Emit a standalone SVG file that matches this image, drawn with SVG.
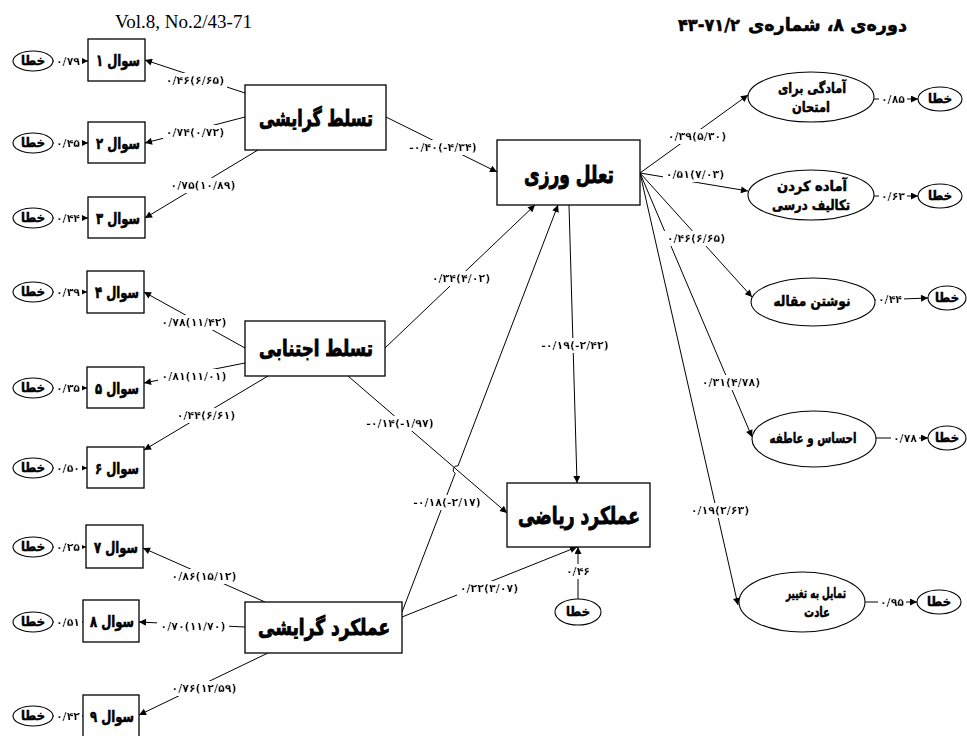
<svg xmlns="http://www.w3.org/2000/svg" width="967" height="736" viewBox="0 0 967 736">
<defs>
<style>
.bx{fill:#fff;stroke:#000;stroke-width:1.3}
.el{fill:#fff;stroke:#000;stroke-width:1.1}
.ln{fill:none;stroke:#000;stroke-width:1}
.ar{marker-end:url(#ah)}
.t{font-family:"DejaVu Sans",sans-serif;font-weight:bold;fill:#000;stroke:#000;stroke-width:0.5;text-anchor:middle}
.big{font-size:22px;stroke-width:0.9}
.q{font-size:16px;stroke-width:0.6}
.ov{font-size:14px;stroke-width:0.5}
.er{font-size:13px;stroke-width:0.5}
.lb{font-family:"DejaVu Sans",sans-serif;font-weight:bold;font-size:11px;text-anchor:middle;filter:url(#bg);stroke:#000;stroke-width:0.2}
</style>
<marker id="ah" viewBox="0 0 10 10" refX="10" refY="5" markerWidth="9" markerHeight="7" markerUnits="userSpaceOnUse" orient="auto"><path d="M0,0 L10,5 L0,10 z"/></marker>
<filter id="bg" x="-0.04" y="-0.05" width="1.08" height="1.1"><feFlood flood-color="#fff"/><feComposite in="SourceGraphic" operator="over"/></filter>
</defs>
<rect width="967" height="736" fill="#fff"/>
<g id="header">
<text x="115" y="28" font-family="Liberation Serif" font-size="19">Vol.8, No.2/43-71</text>
<text x="907" y="31" class="t" style="font-size:18px;text-anchor:end" textLength="159" lengthAdjust="spacingAndGlyphs">دوره&#x200C;ی ۸، شماره&#x200C;ی</text>
<text x="678" y="31" class="t" style="font-size:17px;text-anchor:start" textLength="62" lengthAdjust="spacingAndGlyphs">۴۳-۷۱/۲</text>
</g>
<g id="connectors">
<path class="ln ar" d="M53,61 L88,61"/>
<path class="ln ar" d="M53,143 L88,143"/>
<path class="ln ar" d="M53,218 L88,218"/>
<path class="ln ar" d="M53,292 L87,292"/>
<path class="ln ar" d="M53,388 L87,388"/>
<path class="ln ar" d="M53,468 L87,468"/>
<path class="ln ar" d="M53,547 L86,547"/>
<path class="ln ar" d="M53,622 L83,622"/>
<path class="ln ar" d="M53,716 L83,716"/>
<path class="ln ar" d="M245,93 L145,60"/>
<path class="ln ar" d="M245,117 L145,143"/>
<path class="ln ar" d="M258,150 L145,218"/>
<path class="ln ar" d="M245,348 L144,292"/>
<path class="ln ar" d="M245,363 L144,383"/>
<path class="ln ar" d="M268,376 L144,450"/>
<path class="ln ar" d="M265,602 L143,548"/>
<path class="ln ar" d="M245,627 L139,622"/>
<path class="ln ar" d="M268,653 L139,715"/>
<path class="ln ar" d="M386,117 L497,172"/>
<path class="ln ar" d="M385,348 L535,205"/>
<path class="ln ar" d="M402,612 L455.2,473.3 A4,4 0 0 1 458,465.9 L558,205"/>
<path class="ln ar" d="M348,376 L507,513"/>
<path class="ln ar" d="M402,617 L577,547"/>
<path class="ln ar" d="M569,205 L577,483"/>
<path class="ln ar" d="M578,599 L578,547"/>
<path class="ln ar" d="M640,173 L748,95"/>
<path class="ln ar" d="M640,173 L748,191"/>
<path class="ln ar" d="M640,173 L752,297"/>
<path class="ln ar" d="M640,173 L752,437"/>
<path class="ln ar" d="M640,173 L738,605"/>
<path class="ln ar" d="M874,99 L918,99"/>
<path class="ln ar" d="M874,196 L918,196"/>
<path class="ln ar" d="M875,300 L928,298"/>
<path class="ln ar" d="M876,438 L928,438"/>
<path class="ln ar" d="M865,602 L917,602"/>
<g id="labels">
<text class="lb" x="68" y="65">۰/۷۹</text>
<text class="lb" x="68" y="147">۰/۴۵</text>
<text class="lb" x="68" y="222">۰/۴۴</text>
<text class="lb" x="68" y="296">۰/۳۹</text>
<text class="lb" x="68" y="392">۰/۳۵</text>
<text class="lb" x="68" y="472">۰/۵۰</text>
<text class="lb" x="68" y="551">۰/۲۵</text>
<text class="lb" x="68" y="626">۰/۵۱</text>
<text class="lb" x="68" y="720">۰/۴۲</text>
<text class="lb" x="195" y="84">۰/۴۶(۶/۶۵)</text>
<text class="lb" x="195" y="136">۰/۷۴(۰/۷۲)</text>
<text class="lb" x="203" y="189">۰/۷۵(۱۰/۸۹)</text>
<text class="lb" x="194" y="326">۰/۷۸(۱۱/۴۲)</text>
<text class="lb" x="194" y="380">۰/۸۱(۱۱/۰۱)</text>
<text class="lb" x="206" y="419">۰/۴۴(۶/۶۱)</text>
<text class="lb" x="204" y="580">۰/۸۶(۱۵/۱۲)</text>
<text class="lb" x="193" y="630">۰/۷۰(۱۱/۷۰)</text>
<text class="lb" x="204" y="692">۰/۷۶(۱۲/۵۹)</text>
<text class="lb" x="443" y="151">-۰/۴۰(-۴/۳۴)</text>
<text class="lb" x="461" y="282">۰/۳۴(۴/۰۲)</text>
<text class="lb" x="447" y="506">-۰/۱۸(-۲/۱۷)</text>
<text class="lb" x="400" y="427">-۰/۱۴(-۱/۹۷)</text>
<text class="lb" x="489" y="592">۰/۲۲(۳/۰۷)</text>
<text class="lb" x="575" y="349">-۰/۱۹(-۲/۴۲)</text>
<text class="lb" x="578" y="575">۰/۴۶</text>
<text class="lb" x="697" y="140">۰/۳۹(۵/۳۰)</text>
<text class="lb" x="695" y="178">۰/۵۱(۷/۰۳)</text>
<text class="lb" x="696" y="242">۰/۴۶(۶/۶۵)</text>
<text class="lb" x="731" y="386">۰/۳۱(۴/۷۸)</text>
<text class="lb" x="720" y="514">۰/۱۹(۲/۶۳)</text>
<text class="lb" x="893" y="103">۰/۸۵</text>
<text class="lb" x="893" y="200">۰/۶۳</text>
<text class="lb" x="890" y="303">۰/۴۴</text>
<text class="lb" x="905" y="442">۰/۷۸</text>
<text class="lb" x="892" y="606">۰/۹۵</text>
</g>
</g>
<g id="e1"><ellipse class="el" cx="33" cy="61" rx="20" ry="10"/><text class="t er" x="33" y="65" textLength="24" lengthAdjust="spacingAndGlyphs">خطا</text></g>
<g id="e2"><ellipse class="el" cx="33" cy="143" rx="20" ry="10"/><text class="t er" x="33" y="147" textLength="24" lengthAdjust="spacingAndGlyphs">خطا</text></g>
<g id="e3"><ellipse class="el" cx="33" cy="218" rx="20" ry="10"/><text class="t er" x="33" y="222" textLength="24" lengthAdjust="spacingAndGlyphs">خطا</text></g>
<g id="e4"><ellipse class="el" cx="33" cy="292" rx="20" ry="10"/><text class="t er" x="33" y="296" textLength="24" lengthAdjust="spacingAndGlyphs">خطا</text></g>
<g id="e5"><ellipse class="el" cx="33" cy="388" rx="20" ry="10"/><text class="t er" x="33" y="392" textLength="24" lengthAdjust="spacingAndGlyphs">خطا</text></g>
<g id="e6"><ellipse class="el" cx="33" cy="468" rx="20" ry="10"/><text class="t er" x="33" y="472" textLength="24" lengthAdjust="spacingAndGlyphs">خطا</text></g>
<g id="e7"><ellipse class="el" cx="33" cy="547" rx="20" ry="10"/><text class="t er" x="33" y="551" textLength="24" lengthAdjust="spacingAndGlyphs">خطا</text></g>
<g id="e8"><ellipse class="el" cx="33" cy="622" rx="20" ry="10"/><text class="t er" x="33" y="626" textLength="24" lengthAdjust="spacingAndGlyphs">خطا</text></g>
<g id="e9"><ellipse class="el" cx="33" cy="716" rx="20" ry="10"/><text class="t er" x="33" y="720" textLength="24" lengthAdjust="spacingAndGlyphs">خطا</text></g>
<g id="q1"><rect class="bx" x="88" y="39" width="57" height="42"/><text class="t q" x="118" y="66" textLength="44" lengthAdjust="spacingAndGlyphs">سوال ۱</text></g>
<g id="q2"><rect class="bx" x="88" y="122" width="57" height="41"/><text class="t q" x="118" y="149" textLength="44" lengthAdjust="spacingAndGlyphs">سوال ۲</text></g>
<g id="q3"><rect class="bx" x="88" y="197" width="57" height="41"/><text class="t q" x="118" y="224" textLength="44" lengthAdjust="spacingAndGlyphs">سوال ۳</text></g>
<g id="q4"><rect class="bx" x="87" y="271" width="57" height="42"/><text class="t q" x="117" y="298" textLength="44" lengthAdjust="spacingAndGlyphs">سوال ۴</text></g>
<g id="q5"><rect class="bx" x="87" y="367" width="57" height="41"/><text class="t q" x="117" y="394" textLength="44" lengthAdjust="spacingAndGlyphs">سوال ۵</text></g>
<g id="q6"><rect class="bx" x="87" y="447" width="57" height="41"/><text class="t q" x="117" y="474" textLength="44" lengthAdjust="spacingAndGlyphs">سوال ۶</text></g>
<g id="q7"><rect class="bx" x="86" y="525" width="57" height="43"/><text class="t q" x="116" y="553" textLength="44" lengthAdjust="spacingAndGlyphs">سوال ۷</text></g>
<g id="q8"><rect class="bx" x="83" y="600" width="56" height="42"/><text class="t q" x="112" y="627" textLength="44" lengthAdjust="spacingAndGlyphs">سوال ۸</text></g>
<g id="q9"><rect class="bx" x="83" y="695" width="56" height="42"/><text class="t q" x="112" y="722" textLength="44" lengthAdjust="spacingAndGlyphs">سوال ۹</text></g>
<g id="L1"><rect class="bx" x="245" y="85" width="141" height="65"/><text class="t big" x="316" y="126" textLength="114" lengthAdjust="spacingAndGlyphs">تسلط گرایشی</text></g>
<g id="L2"><rect class="bx" x="245" y="321" width="140" height="55"/><text class="t big" x="316" y="356" textLength="114" lengthAdjust="spacingAndGlyphs">تسلط اجتنابی</text></g>
<g id="L3"><rect class="bx" x="245" y="602" width="157" height="51"/><text class="t big" x="324" y="635" textLength="132" lengthAdjust="spacingAndGlyphs">عملکرد گرایشی</text></g>
<g id="M"><rect class="bx" x="497" y="140" width="143" height="65"/><text class="t big" x="569" y="183" style="font-size:24px" textLength="90" lengthAdjust="spacingAndGlyphs">تعلل ورزی</text></g>
<g id="Y"><rect class="bx" x="507" y="483" width="143" height="64"/><text class="t big" x="579" y="524" style="font-size:24px" textLength="122" lengthAdjust="spacingAndGlyphs">عملکرد ریاضی</text></g>
<g id="eY"><ellipse class="el" cx="578" cy="612" rx="23" ry="13"/><text class="t er" x="578" y="616" textLength="24" lengthAdjust="spacingAndGlyphs">خطا</text></g>
<g id="A1"><ellipse class="el" cx="811" cy="97" rx="63" ry="25"/><text class="t ov" x="812" y="93" textLength="68" lengthAdjust="spacingAndGlyphs">آمادگی برای</text><text class="t ov" x="811" y="112" textLength="38" lengthAdjust="spacingAndGlyphs">امتحان</text></g>
<g id="A2"><ellipse class="el" cx="811" cy="195" rx="63" ry="25"/><text class="t ov" x="812" y="191" textLength="70" lengthAdjust="spacingAndGlyphs">آماده کردن</text><text class="t ov" x="811" y="210" textLength="78" lengthAdjust="spacingAndGlyphs">تکالیف درسی</text></g>
<g id="A3"><ellipse class="el" cx="813" cy="302" rx="62" ry="24"/><text class="t ov" x="812" y="306" textLength="77" lengthAdjust="spacingAndGlyphs">نوشتن مقاله</text></g>
<g id="A4"><ellipse class="el" cx="814" cy="439" rx="62" ry="28"/><text class="t ov" x="813" y="443" textLength="87" lengthAdjust="spacingAndGlyphs">احساس و عاطفه</text></g>
<g id="A5"><ellipse class="el" cx="802" cy="602" rx="63" ry="30"/><text class="t ov" x="816" y="598" textLength="60" lengthAdjust="spacingAndGlyphs">تمایل به تغییر</text><text class="t ov" x="817" y="617" textLength="26" lengthAdjust="spacingAndGlyphs">عادت</text></g>
<g id="r1"><ellipse class="el" cx="940" cy="99" rx="22" ry="12"/><text class="t er" x="940" y="103" textLength="24" lengthAdjust="spacingAndGlyphs">خطا</text></g>
<g id="r2"><ellipse class="el" cx="940" cy="196" rx="22" ry="12"/><text class="t er" x="940" y="200" textLength="24" lengthAdjust="spacingAndGlyphs">خطا</text></g>
<g id="r3"><ellipse class="el" cx="947" cy="298" rx="19" ry="12"/><text class="t er" x="947" y="302" textLength="24" lengthAdjust="spacingAndGlyphs">خطا</text></g>
<g id="r4"><ellipse class="el" cx="947" cy="438" rx="19" ry="12"/><text class="t er" x="947" y="442" textLength="24" lengthAdjust="spacingAndGlyphs">خطا</text></g>
<g id="r5"><ellipse class="el" cx="939" cy="602" rx="22" ry="12"/><text class="t er" x="939" y="606" textLength="24" lengthAdjust="spacingAndGlyphs">خطا</text></g>
</svg>
